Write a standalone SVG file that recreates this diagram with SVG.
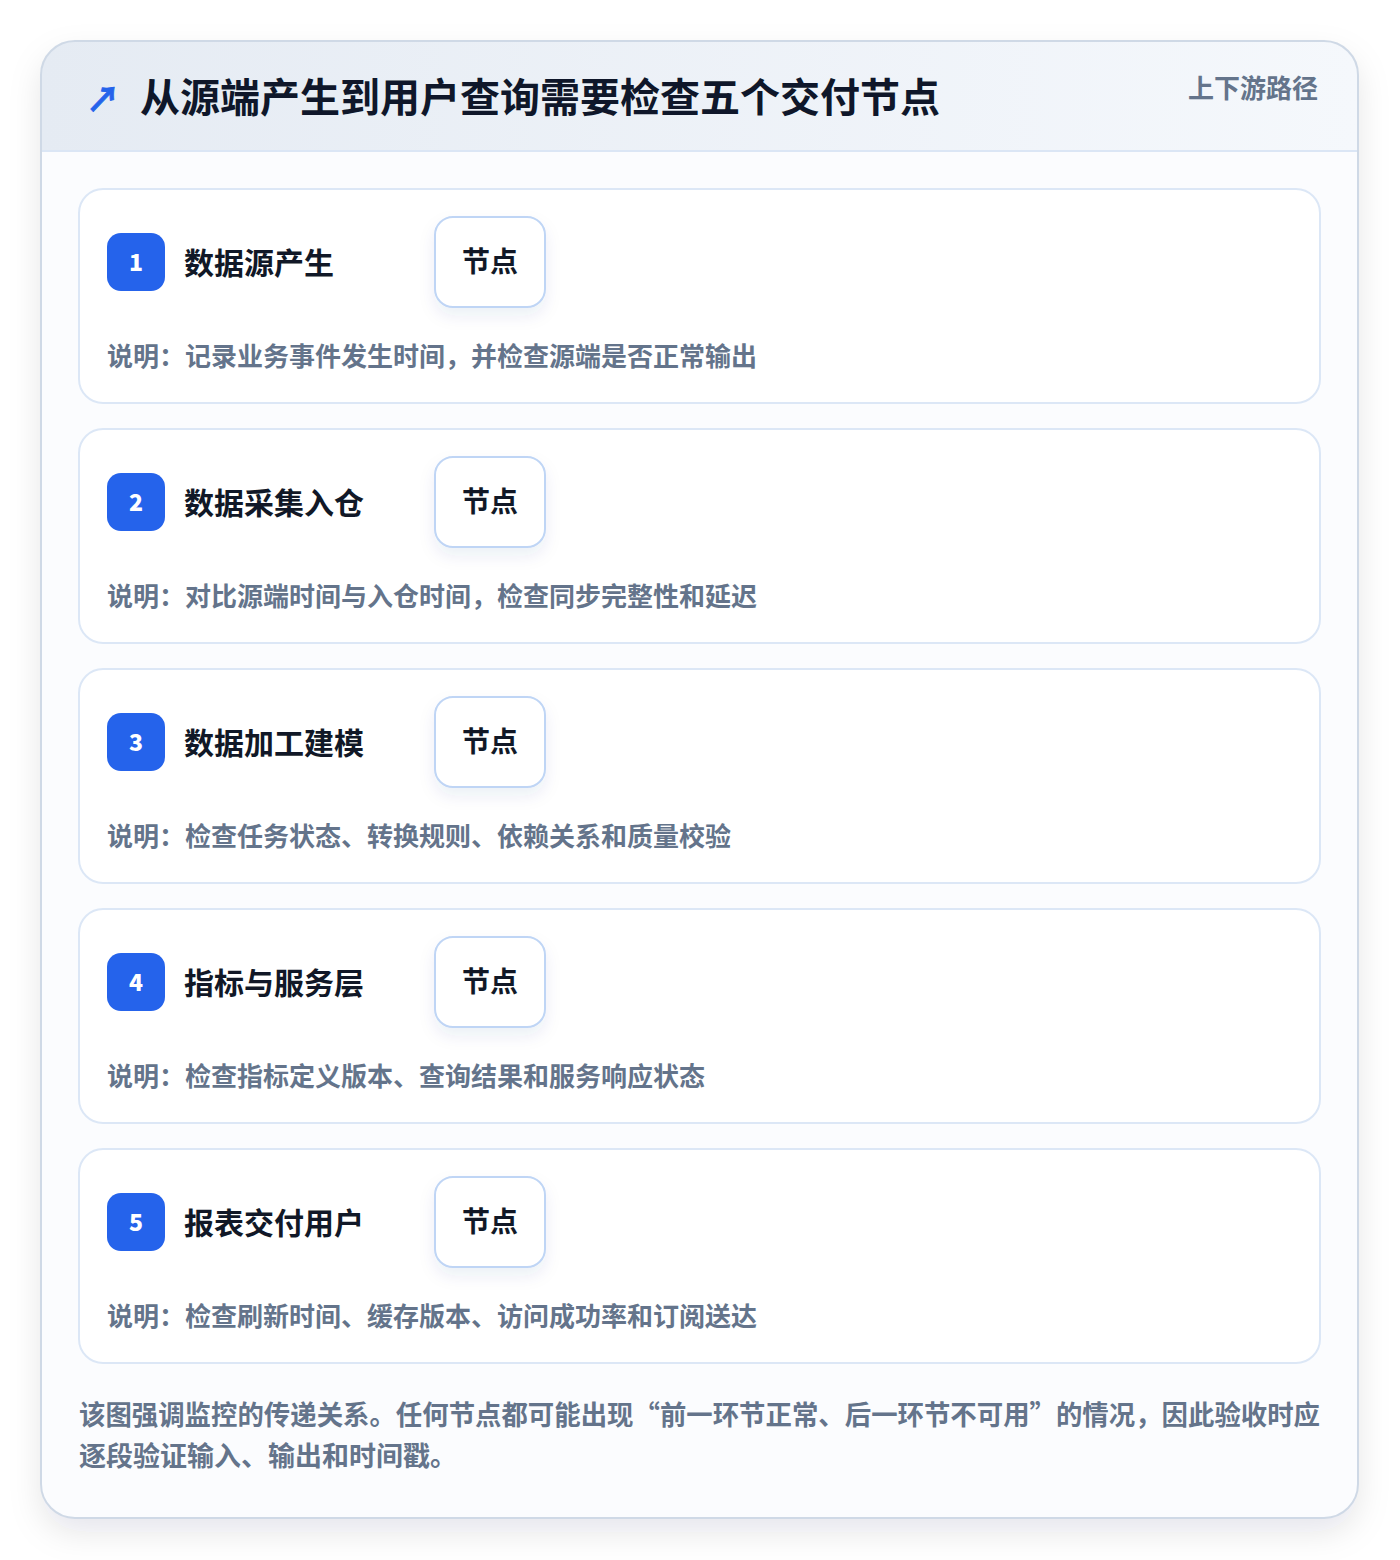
<svg xmlns="http://www.w3.org/2000/svg" width="1400" height="1560" viewBox="0 0 1400 1560">
<defs>
<linearGradient id="hdr" x1="0" y1="0" x2="1" y2="0">
<stop offset="0" stop-color="#e5ebf3"/>
<stop offset="1" stop-color="#f5f8fc"/>
</linearGradient>
<filter id="outerShadow" x="-10%" y="-10%" width="120%" height="120%">
<feDropShadow dx="0" dy="14" stdDeviation="16" flood-color="#0f172a" flood-opacity="0.10"/>
</filter>
<filter id="nodeShadow" x="-30%" y="-30%" width="160%" height="170%">
<feDropShadow dx="0" dy="8" stdDeviation="8" flood-color="#1e3a8a" flood-opacity="0.08"/>
</filter>
<clipPath id="outerClip"><rect x="41" y="41" width="1317" height="1477" rx="34"/></clipPath>
</defs>
<style>
.cjk{font-family:"Noto Sans CJK SC","Noto Sans",sans-serif;font-weight:700}
.card{fill:#ffffff;stroke:#dce7f6;stroke-width:2}
.badge{fill:#2563eb}
.num{font-family:"Noto Sans CJK SC","Noto Sans",sans-serif;font-weight:900;font-size:23px;fill:#ffffff;text-anchor:middle}
.ttl{font-size:30px;fill:#111827}
.node{fill:#ffffff;stroke:#bfd5f5;stroke-width:2}
.ntxt{font-size:28px;fill:#111827;text-anchor:middle}
.desc{font-size:26px;fill:#64748b}
.foot{font-size:27px;fill:#64748b}
</style>
<rect width="1400" height="1560" fill="#ffffff"/>
<g id="frame">
<rect x="41" y="41" width="1317" height="1477" rx="34" fill="#ffffff" filter="url(#outerShadow)"/>
<g clip-path="url(#outerClip)">
<rect x="41" y="41" width="1317" height="110" fill="url(#hdr)"/>
<rect x="41" y="151" width="1317" height="1367" fill="#fbfcfe"/>
</g>
<line x1="41" y1="151" x2="1358" y2="151" stroke="#dbe6f5" stroke-width="2"/>
<rect x="41" y="41" width="1317" height="1477" rx="34" fill="none" stroke="#cfd9e6" stroke-width="2"/>
</g>
<g id="header">
<text x="86" y="112" class="cjk" font-size="34" fill="#2563eb" stroke="#2563eb" stroke-width="0.8">↗</text>
<text x="140" y="112" class="cjk" font-size="40" fill="#0f172a">从源端产生到用户查询需要检查五个交付节点</text>
<text x="1318" y="98" class="cjk" font-size="26" fill="#64748b" text-anchor="end">上下游路径</text>
</g>
<g id="connectors"></g>
<g id="step1">
<rect x="79" y="189" width="1241" height="214" rx="24" class="card"/>
<rect x="107" y="233" width="58" height="58" rx="14" class="badge"/>
<text x="136" y="271" class="num">1</text>
<text x="184" y="274" class="cjk ttl">数据源产生</text>
<rect x="435" y="217" width="110" height="90" rx="18" class="node" filter="url(#nodeShadow)"/>
<text x="490" y="272" class="cjk ntxt">节点</text>
<text x="107" y="366" class="cjk desc">说明：记录业务事件发生时间，并检查源端是否正常输出</text>
</g>
<g id="step2">
<rect x="79" y="429" width="1241" height="214" rx="24" class="card"/>
<rect x="107" y="473" width="58" height="58" rx="14" class="badge"/>
<text x="136" y="511" class="num">2</text>
<text x="184" y="514" class="cjk ttl">数据采集入仓</text>
<rect x="435" y="457" width="110" height="90" rx="18" class="node" filter="url(#nodeShadow)"/>
<text x="490" y="512" class="cjk ntxt">节点</text>
<text x="107" y="606" class="cjk desc">说明：对比源端时间与入仓时间，检查同步完整性和延迟</text>
</g>
<g id="step3">
<rect x="79" y="669" width="1241" height="214" rx="24" class="card"/>
<rect x="107" y="713" width="58" height="58" rx="14" class="badge"/>
<text x="136" y="751" class="num">3</text>
<text x="184" y="754" class="cjk ttl">数据加工建模</text>
<rect x="435" y="697" width="110" height="90" rx="18" class="node" filter="url(#nodeShadow)"/>
<text x="490" y="752" class="cjk ntxt">节点</text>
<text x="107" y="846" class="cjk desc">说明：检查任务状态、转换规则、依赖关系和质量校验</text>
</g>
<g id="step4">
<rect x="79" y="909" width="1241" height="214" rx="24" class="card"/>
<rect x="107" y="953" width="58" height="58" rx="14" class="badge"/>
<text x="136" y="991" class="num">4</text>
<text x="184" y="994" class="cjk ttl">指标与服务层</text>
<rect x="435" y="937" width="110" height="90" rx="18" class="node" filter="url(#nodeShadow)"/>
<text x="490" y="992" class="cjk ntxt">节点</text>
<text x="107" y="1086" class="cjk desc">说明：检查指标定义版本、查询结果和服务响应状态</text>
</g>
<g id="step5">
<rect x="79" y="1149" width="1241" height="214" rx="24" class="card"/>
<rect x="107" y="1193" width="58" height="58" rx="14" class="badge"/>
<text x="136" y="1231" class="num">5</text>
<text x="184" y="1234" class="cjk ttl">报表交付用户</text>
<rect x="435" y="1177" width="110" height="90" rx="18" class="node" filter="url(#nodeShadow)"/>
<text x="490" y="1232" class="cjk ntxt">节点</text>
<text x="107" y="1326" class="cjk desc">说明：检查刷新时间、缓存版本、访问成功率和订阅送达</text>
</g>
<g id="footer">
<text x="79" y="1425" class="cjk foot" textLength="1241" lengthAdjust="spacingAndGlyphs">该图强调监控的传递关系。任何节点都可能出现“前一环节正常、后一环节不可用”的情况，因此验收时应</text>
<text x="79" y="1466" class="cjk foot">逐段验证输入、输出和时间戳。</text>
</g>
</svg>
